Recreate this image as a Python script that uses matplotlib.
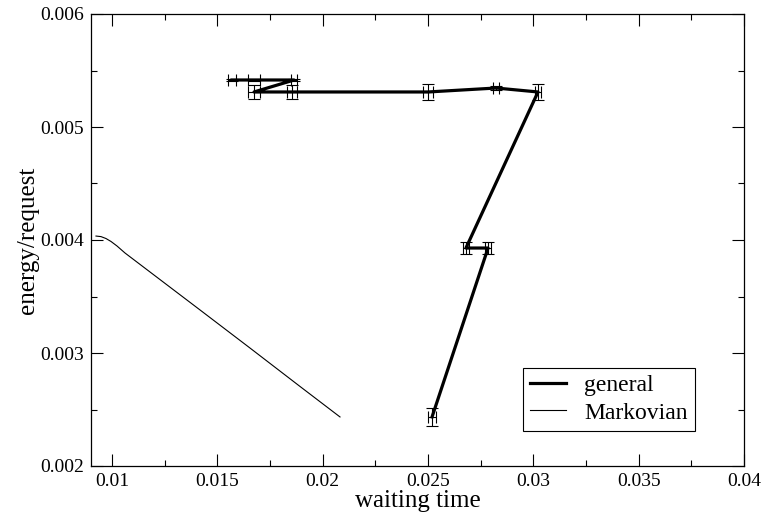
import matplotlib
matplotlib.use("Agg")
import matplotlib.pyplot as plt
from matplotlib.ticker import MultipleLocator
from matplotlib.lines import Line2D

plt.rcParams['font.family'] = ['Liberation Serif', 'DejaVu Serif']

# general model: waiting time vs energy/request, with error bars
general_x = [0.01569, 0.01674, 0.01864, 0.01674, 0.01854, 0.02500, 0.02823,
             0.03022, 0.02680, 0.02785, 0.02519]
general_y = [0.005416, 0.005416, 0.005416, 0.005310, 0.005310, 0.005310,
             0.005345, 0.005310, 0.003929, 0.003929, 0.002434]
general_xerr = [0.00019, 0.00028, 0.00016, 0.00028, 0.00024, 0.00022, 0.00014,
                0.00014, 0.00014, 0.00014, 0.00019]
general_yerr = [0.00001, 0.00001, 0.00001, 0.00006, 0.00006, 0.00007, 0.00002,
                0.00007, 0.00005, 0.00005, 0.00008]

# Markovian approximation
markov_x = [0.009237, 0.009475, 0.009712, 0.009949, 0.010234, 0.010614,
            0.011801, 0.014175, 0.016548, 0.018922, 0.020821]
markov_y = [0.004035, 0.004030, 0.004013, 0.003987, 0.003947, 0.003885,
            0.003717, 0.003381, 0.003044, 0.002704, 0.002434]

fig = plt.figure(figsize=(7.65, 5.18), dpi=100)
ax = fig.add_axes([91 / 765, 1 - 466 / 518, 653 / 765, 452 / 518])

ax.errorbar(general_x, general_y, xerr=general_xerr, yerr=general_yerr,
            color='black', linewidth=2.3, elinewidth=0.8, capsize=4,
            capthick=0.8, label='general')
ax.plot(markov_x, markov_y, color='black', linewidth=0.8, label='Markovian')

ax.set_xlim(0.009, 0.04)
ax.set_ylim(0.002, 0.006)
ax.xaxis.set_major_locator(MultipleLocator(0.005))
ax.xaxis.set_minor_locator(MultipleLocator(0.0025))
ax.yaxis.set_major_locator(MultipleLocator(0.001))
ax.yaxis.set_minor_locator(MultipleLocator(0.0005))
ax.xaxis.set_major_formatter(plt.FuncFormatter(lambda v, p: f'{v:g}'))
ax.yaxis.set_major_formatter(plt.FuncFormatter(lambda v, p: f'{v:.3f}'))

ax.tick_params(which='both', direction='in', top=True, right=True,
               labelsize=14, width=0.8)
ax.tick_params(which='major', length=8.5, pad=5)
ax.tick_params(which='minor', length=4.3)
for s in ax.spines.values():
    s.set_linewidth(0.9)

ax.set_xlabel('waiting time', fontsize=18, labelpad=0)
ax.set_ylabel('energy/request', fontsize=18, labelpad=1)

leg_handles = [Line2D([], [], color='black', linewidth=2.3),
               Line2D([], [], color='black', linewidth=0.8)]
ax.legend(leg_handles, ['general', 'Markovian'], loc='lower right',
          bbox_to_anchor=(0.925, 0.078), fontsize=17, frameon=True,
          fancybox=False, edgecolor='black', framealpha=1,
          handlelength=1.5, borderpad=0.3, labelspacing=0.25,
          handletextpad=0.8, borderaxespad=0)
ax.get_legend().get_frame().set_linewidth(0.8)

fig.savefig('out.png', dpi=100)
